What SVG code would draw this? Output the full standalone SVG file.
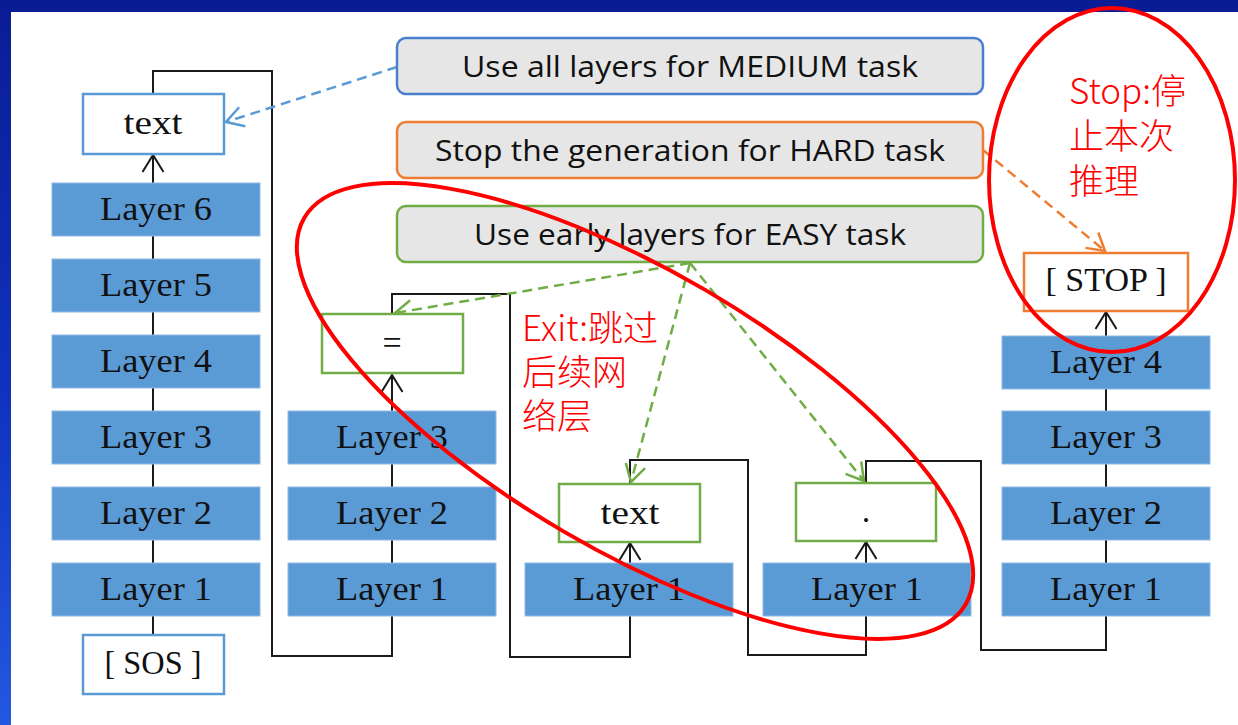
<svg xmlns="http://www.w3.org/2000/svg" width="1238" height="725" viewBox="0 0 1238 725">
  <defs>
    <linearGradient id="frameGrad" x1="0" y1="0" x2="0" y2="1">
      <stop offset="0" stop-color="#0a1c94"/>
      <stop offset="0.55" stop-color="#0f33bf"/>
      <stop offset="1" stop-color="#2458e2"/>
    </linearGradient>
    <marker id="arrowBlack" markerUnits="userSpaceOnUse" markerWidth="30" markerHeight="30" viewBox="-20 -15 30 30" refX="0" refY="0" orient="auto">
      <path d="M-17,-10.5 L0,0 L-17,10.5" fill="none" stroke="#1a1a1a" stroke-width="2"/>
    </marker>
    <marker id="arrowBlue" markerUnits="userSpaceOnUse" markerWidth="30" markerHeight="30" viewBox="-20 -15 30 30" refX="0" refY="0" orient="auto">
      <path d="M-17,-10 L0,0 L-17,10" fill="none" stroke="#5b9bd5" stroke-width="2.5"/>
    </marker>
    <marker id="arrowOrange" markerUnits="userSpaceOnUse" markerWidth="30" markerHeight="30" viewBox="-20 -15 30 30" refX="0" refY="0" orient="auto">
      <path d="M-17,-10 L0,0 L-17,10" fill="none" stroke="#ed7d31" stroke-width="2.5"/>
    </marker>
    <marker id="arrowGreen" markerUnits="userSpaceOnUse" markerWidth="30" markerHeight="30" viewBox="-20 -15 30 30" refX="0" refY="0" orient="auto">
      <path d="M-17,-10 L0,0 L-17,10" fill="none" stroke="#70ad47" stroke-width="2.5"/>
    </marker>
  </defs>
  <style>
    .layer rect { fill: #5b9bd5; stroke: #8fb8e4; stroke-width: 1; }
    .serif { font-family: "Liberation Serif", "DejaVu Serif", serif; font-size: 34px; fill: #111; text-anchor: middle; }
    .tok { fill: #ffffff; stroke-width: 2.5; }
    .tok-blue { stroke: #5b9bd5; }
    .tok-green { stroke: #70ad47; }
    .tok-orange { stroke: #ed7d31; }
    .note rect { fill: #e6e6e6; stroke-width: 2.5; }
    .note text { font-family: "Open Sans", "Liberation Sans", sans-serif; font-size: 29px; fill: #111; text-anchor: middle; }
    .flow { fill: none; stroke: #1a1a1a; stroke-width: 2; }
    .dash { fill: none; stroke-width: 2.5; stroke-dasharray: 10 6; }
    .mark { fill: none; stroke: #ff0000; stroke-width: 4; }
    .mark-text { font-family: "Noto Sans CJK SC", "Noto Sans", sans-serif; font-size: 35px; font-weight: 300; fill: #ff0000; }
  </style>

  <!-- slide frame -->
  <rect x="0" y="0" width="1238" height="725" fill="url(#frameGrad)"/>
  <rect x="0" y="0" width="1238" height="12" fill="#0a1c94"/>
  <rect x="11" y="12" width="1227" height="713" fill="#ffffff"/>

  <!-- token flow between the layer stacks -->
  <g id="connectors">
    <line class="flow" x1="153" y1="635" x2="153" y2="155" marker-end="url(#arrowBlack)"/>
    <path class="flow" d="M153,94 V71 H272 V656 H392 V375" marker-end="url(#arrowBlack)"/>
    <path class="flow" d="M392,314 V294 H510 V657 H630 V543" marker-end="url(#arrowBlack)"/>
    <path class="flow" d="M630,484 V460 H748 V655 H866 V542" marker-end="url(#arrowBlack)"/>
    <path class="flow" d="M866,483 V461 H981 V650 H1106 V312" marker-end="url(#arrowBlack)"/>
    <line class="dash" stroke="#5b9bd5" x1="397" y1="67" x2="226" y2="122" marker-end="url(#arrowBlue)"/>
    <line class="dash" stroke="#ed7d31" x1="983" y1="150" x2="1105" y2="251" marker-end="url(#arrowOrange)"/>
    <line class="dash" stroke="#70ad47" x1="690" y1="263" x2="395" y2="313" marker-end="url(#arrowGreen)"/>
    <line class="dash" stroke="#70ad47" x1="690" y1="263" x2="631" y2="482" marker-end="url(#arrowGreen)"/>
    <line class="dash" stroke="#70ad47" x1="690" y1="263" x2="864" y2="481" marker-end="url(#arrowGreen)"/>
  </g>

  <!-- stack 1: all six layers -->
  <g id="stack1" class="layer">
    <rect x="52" y="183" width="208" height="53"/><text class="serif" x="156" y="220" textLength="112" lengthAdjust="spacingAndGlyphs">Layer 6</text>
    <rect x="52" y="259" width="208" height="53"/><text class="serif" x="156" y="296" textLength="112" lengthAdjust="spacingAndGlyphs">Layer 5</text>
    <rect x="52" y="335" width="208" height="53"/><text class="serif" x="156" y="372" textLength="112" lengthAdjust="spacingAndGlyphs">Layer 4</text>
    <rect x="52" y="411" width="208" height="53"/><text class="serif" x="156" y="448" textLength="112" lengthAdjust="spacingAndGlyphs">Layer 3</text>
    <rect x="52" y="487" width="208" height="53"/><text class="serif" x="156" y="524" textLength="112" lengthAdjust="spacingAndGlyphs">Layer 2</text>
    <rect x="52" y="563" width="208" height="53"/><text class="serif" x="156" y="600" textLength="112" lengthAdjust="spacingAndGlyphs">Layer 1</text>
  </g>
  <g id="token-sos">
    <rect class="tok tok-blue" x="83" y="635" width="141" height="59"/>
    <text class="serif" x="153" y="674" textLength="97" lengthAdjust="spacingAndGlyphs">[ SOS ]</text>
  </g>
  <g id="token-text1">
    <rect class="tok tok-blue" x="83" y="94" width="141" height="60"/>
    <text class="serif" x="153" y="134" textLength="59" lengthAdjust="spacingAndGlyphs">text</text>
  </g>

  <!-- stack 2: three layers -->
  <g id="stack2" class="layer">
    <rect x="288" y="411" width="208" height="53"/><text class="serif" x="392" y="448" textLength="112" lengthAdjust="spacingAndGlyphs">Layer 3</text>
    <rect x="288" y="487" width="208" height="53"/><text class="serif" x="392" y="524" textLength="112" lengthAdjust="spacingAndGlyphs">Layer 2</text>
    <rect x="288" y="563" width="208" height="53"/><text class="serif" x="392" y="600" textLength="112" lengthAdjust="spacingAndGlyphs">Layer 1</text>
  </g>
  <g id="token-eq">
    <rect class="tok tok-green" x="322" y="314" width="141" height="59"/>
    <text class="serif" x="392" y="354">=</text>
  </g>

  <!-- stack 3: one layer -->
  <g id="stack3" class="layer">
    <rect x="525" y="563" width="208" height="53"/><text class="serif" x="629" y="600" textLength="112" lengthAdjust="spacingAndGlyphs">Layer 1</text>
  </g>
  <g id="token-text2">
    <rect class="tok tok-green" x="559" y="484" width="141" height="58"/>
    <text class="serif" x="630" y="524" textLength="59" lengthAdjust="spacingAndGlyphs">text</text>
  </g>

  <!-- stack 4: one layer -->
  <g id="stack4" class="layer">
    <rect x="763" y="563" width="208" height="53"/><text class="serif" x="867" y="600" textLength="112" lengthAdjust="spacingAndGlyphs">Layer 1</text>
  </g>
  <g id="token-dot">
    <rect class="tok tok-green" x="796" y="483" width="140" height="58"/>
    <text class="serif" x="866" y="522">.</text>
  </g>

  <!-- stack 5: four layers -->
  <g id="stack5" class="layer">
    <rect x="1002" y="336" width="208" height="53"/><text class="serif" x="1106" y="373" textLength="112" lengthAdjust="spacingAndGlyphs">Layer 4</text>
    <rect x="1002" y="411" width="208" height="53"/><text class="serif" x="1106" y="448" textLength="112" lengthAdjust="spacingAndGlyphs">Layer 3</text>
    <rect x="1002" y="487" width="208" height="53"/><text class="serif" x="1106" y="524" textLength="112" lengthAdjust="spacingAndGlyphs">Layer 2</text>
    <rect x="1002" y="563" width="208" height="53"/><text class="serif" x="1106" y="600" textLength="112" lengthAdjust="spacingAndGlyphs">Layer 1</text>
  </g>
  <g id="token-stop">
    <rect class="tok tok-orange" x="1024" y="253" width="164" height="58"/>
    <text class="serif" x="1106" y="291" textLength="121" lengthAdjust="spacingAndGlyphs">[ STOP ]</text>
  </g>

  <!-- policy notes -->
  <g id="note-medium" class="note">
    <rect x="397" y="38" width="586" height="56" rx="9" stroke="#4a7fcf"/>
    <text x="690" y="77" textLength="456" lengthAdjust="spacingAndGlyphs">Use all layers for MEDIUM task</text>
  </g>
  <g id="note-hard" class="note">
    <rect x="397" y="122" width="586" height="56" rx="9" stroke="#ed7d31"/>
    <text x="690" y="161" textLength="510" lengthAdjust="spacingAndGlyphs">Stop the generation for HARD task</text>
  </g>
  <g id="note-easy" class="note">
    <rect x="397" y="206" width="586" height="56" rx="9" stroke="#70ad47"/>
    <text x="690" y="245" textLength="432" lengthAdjust="spacingAndGlyphs">Use early layers for EASY task</text>
  </g>

  <!-- red hand annotations -->
  <g id="annotation-exit">
    <ellipse class="mark" cx="635" cy="411" rx="383" ry="140" transform="rotate(30.3 635 411)"/>
    <text class="mark-text" x="522" y="341">Exit:跳过</text>
    <text class="mark-text" x="522" y="385">后续网</text>
    <text class="mark-text" x="522" y="429">络层</text>
  </g>
  <g id="annotation-stop">
    <ellipse class="mark" cx="1112" cy="180" rx="123" ry="172"/>
    <text class="mark-text" x="1069" y="104">Stop:停</text>
    <text class="mark-text" x="1069" y="149">止本次</text>
    <text class="mark-text" x="1069" y="194">推理</text>
  </g>
</svg>
